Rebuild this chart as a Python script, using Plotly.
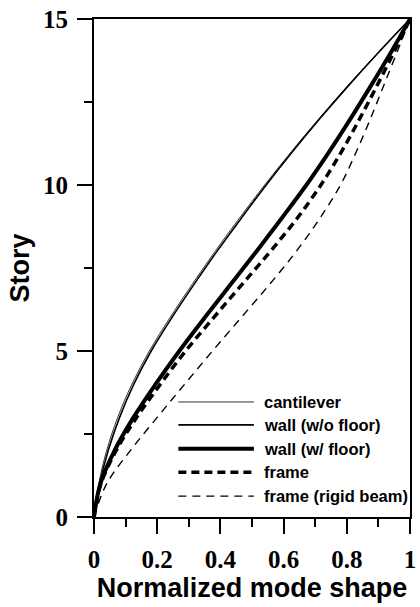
import plotly.graph_objects as go

# ---- data ----
story = list(range(16))
cantilever = [0, 0.015, 0.04, 0.075, 0.12, 0.175, 0.24, 0.31, 0.383, 0.46, 0.54, 0.624, 0.712, 0.804, 0.90, 1.0]
wall_wo_floor = [0, 0.018, 0.045, 0.081, 0.126, 0.181, 0.246, 0.316, 0.389, 0.466, 0.545, 0.628, 0.715, 0.806, 0.901, 1.0]
wall_w_floor = [0, 0.02, 0.065, 0.125, 0.195, 0.27, 0.35, 0.432, 0.514, 0.594, 0.672, 0.744, 0.812, 0.877, 0.94, 1.0]
frame = [0, 0.022, 0.07, 0.135, 0.21, 0.29, 0.378, 0.468, 0.558, 0.643, 0.718, 0.783, 0.841, 0.896, 0.949, 1.0]
frame_rigid = [0, 0.04, 0.115, 0.2, 0.287, 0.375, 0.465, 0.555, 0.64, 0.715, 0.78, 0.83, 0.875, 0.917, 0.959, 1.0]

names = ["cantilever", "wall (w/o floor)", "wall (w/ floor)", "frame", "frame (rigid beam)"]
series = [cantilever, wall_wo_floor, wall_w_floor, frame, frame_rigid]
styles = [
    dict(color="#333333", width=1.0, dash="solid"),
    dict(color="black", width=1.6, dash="solid"),
    dict(color="black", width=4.0, dash="solid"),
    dict(color="black", width=3.5, dash="8px,5px"),
    dict(color="black", width=1.4, dash="8px,6px"),
]

fig = go.Figure()
for n, s, st in zip(names, series, styles):
    fig.add_trace(go.Scatter(x=s, y=story, mode="lines", name=n,
                             line=dict(shape="spline", smoothing=1.0, **st),
                             showlegend=False))

# ---- manual legend (long line samples like the reference) ----
leg_y = [0.231, 0.185, 0.137, 0.090, 0.042]
for n, st, yy in zip(names, styles, leg_y):
    fig.add_shape(type="line", xref="paper", yref="paper", x0=0.267, x1=0.506, y0=yy, y1=yy,
                  line=dict(color=st["color"], width=st["width"], dash=st["dash"]))
    fig.add_annotation(xref="paper", yref="paper", x=0.532, y=yy, text=n, showarrow=False,
                       xanchor="left", yanchor="middle",
                       font=dict(family="Arial, Liberation Sans", size=16.5, color="black", weight="bold"))

tickfont = dict(family="Liberation Serif, Times New Roman", size=25, color="black", weight="bold")
titlefont = dict(family="Arial, Liberation Sans", size=27, color="black", weight="bold")

fig.update_xaxes(range=[0, 1], tickvals=[0, 0.2, 0.4, 0.6, 0.8, 1], ticktext=["0", "0.2", "0.4", "0.6", "0.8", "1"],
                 showgrid=False, zeroline=False, showline=True, mirror=True, linecolor="black", linewidth=2,
                 ticks="outside", ticklen=15, tickwidth=2, tickcolor="black",
                 minor=dict(ticks="outside", ticklen=8, tickwidth=2, tickcolor="black", dtick=0.1, showgrid=False),
                 tickfont=tickfont, ticklabelstandoff=4, ticklabeloverflow="allow",
                 title=dict(text="Normalized mode shape", font=titlefont, standoff=2))
fig.update_yaxes(range=[0, 15], tickvals=[0, 5, 10, 15],
                 showgrid=False, zeroline=False, showline=True, mirror=True, linecolor="black", linewidth=2,
                 ticks="outside", ticklen=15, tickwidth=2, tickcolor="black",
                 minor=dict(ticks="outside", ticklen=8, tickwidth=2, tickcolor="black", dtick=2.5, showgrid=False),
                 tickfont=tickfont, ticklabelstandoff=4, ticklabeloverflow="allow",
                 title=dict(text="Story", font=titlefont, standoff=6))

fig.update_layout(width=420, height=607, margin=dict(l=94, r=4, t=19, b=90),
                  plot_bgcolor="white", paper_bgcolor="white", showlegend=False)

fig.write_html("out.html")
